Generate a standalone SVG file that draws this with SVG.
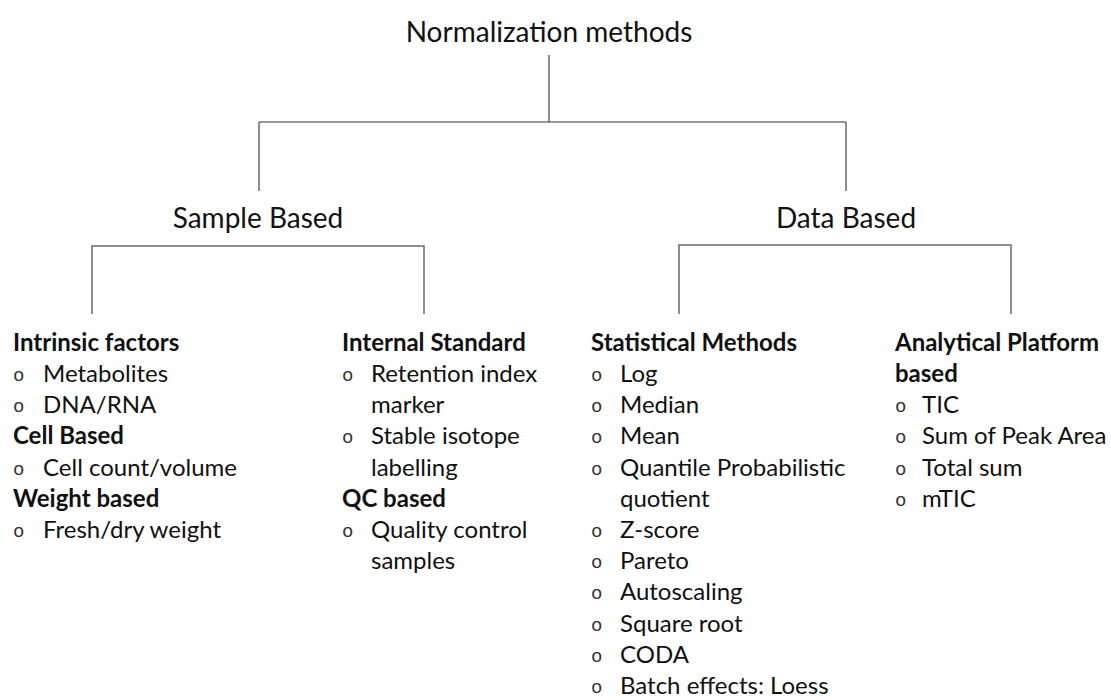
<svg xmlns="http://www.w3.org/2000/svg" width="1111" height="700" viewBox="0 0 1111 700">
<style>
  text { font-family: Lato, "Liberation Sans", sans-serif; fill: #111; }
  .title { font-size: 28px; text-anchor: middle; }
  .head { font-size: 24px; font-weight: bold; }
  .item { font-size: 24px; }
  .bul { font-family: "Liberation Mono", monospace; font-size: 19px; fill: #333; }
  .c1 { stroke: #333; stroke-width: 1.1; fill: none; }
  .c2 { stroke: #6a6a6a; stroke-width: 1.5; fill: none; }
</style>
<rect width="1111" height="700" fill="#fff"/>
<g id="connectors">
  <path class="c1" d="M549 55 V122 M259 122 H846 M259 122 V191 M846 122 V191"/>
  <path class="c2" d="M92 314 V246 H424 V314"/>
  <path class="c2" d="M679 314 V245 H1011 V314"/>
</g>
<g id="root"><text class="title" x="549" y="42">Normalization methods</text></g>
<g id="sample-based"><text class="title" x="258" y="228">Sample Based</text></g>
<g id="data-based"><text class="title" x="846" y="228">Data Based</text></g>
<g id="col-sample-1">
  <text class="head" x="13" y="351">Intrinsic factors</text>
  <text class="bul" x="13" y="381">o</text><text class="item" x="43" y="382">Metabolites</text>
  <text class="bul" x="13" y="412">o</text><text class="item" x="43" y="413">DNA/RNA</text>
  <text class="head" x="13" y="444">Cell Based</text>
  <text class="bul" x="13" y="475">o</text><text class="item" x="43" y="476">Cell count/volume</text>
  <text class="head" x="13" y="507">Weight based</text>
  <text class="bul" x="13" y="537">o</text><text class="item" x="43" y="538">Fresh/dry weight</text>
</g>
<g id="col-sample-2">
  <text class="head" x="342" y="351">Internal Standard</text>
  <text class="bul" x="342" y="381">o</text><text class="item" x="371" y="382">Retention index</text>
  <text class="item" x="371" y="413">marker</text>
  <text class="bul" x="342" y="443">o</text><text class="item" x="371" y="444">Stable isotope</text>
  <text class="item" x="371" y="476">labelling</text>
  <text class="head" x="342" y="507">QC based</text>
  <text class="bul" x="342" y="537">o</text><text class="item" x="371" y="538">Quality control</text>
  <text class="item" x="371" y="569">samples</text>
</g>
<g id="col-data-1">
  <text class="head" x="591" y="351">Statistical Methods</text>
  <text class="bul" x="591" y="381">o</text><text class="item" x="620" y="382">Log</text>
  <text class="bul" x="591" y="412">o</text><text class="item" x="620" y="413">Median</text>
  <text class="bul" x="591" y="443">o</text><text class="item" x="620" y="444">Mean</text>
  <text class="bul" x="591" y="475">o</text><text class="item" x="620" y="476">Quantile Probabilistic</text>
  <text class="item" x="620" y="507">quotient</text>
  <text class="bul" x="591" y="537">o</text><text class="item" x="620" y="538">Z-score</text>
  <text class="bul" x="591" y="568">o</text><text class="item" x="620" y="569">Pareto</text>
  <text class="bul" x="591" y="599">o</text><text class="item" x="620" y="600">Autoscaling</text>
  <text class="bul" x="591" y="631">o</text><text class="item" x="620" y="632">Square root</text>
  <text class="bul" x="591" y="662">o</text><text class="item" x="620" y="663">CODA</text>
  <text class="bul" x="591" y="693">o</text><text class="item" x="620" y="694">Batch effects: Loess</text>
</g>
<g id="col-data-2">
  <text class="head" x="895" y="351">Analytical Platform</text>
  <text class="head" x="895" y="382">based</text>
  <text class="bul" x="895" y="412">o</text><text class="item" x="922" y="413">TIC</text>
  <text class="bul" x="895" y="443">o</text><text class="item" x="922" y="444">Sum of Peak Area</text>
  <text class="bul" x="895" y="475">o</text><text class="item" x="922" y="476">Total sum</text>
  <text class="bul" x="895" y="506">o</text><text class="item" x="922" y="507">mTIC</text>
</g>
</svg>
